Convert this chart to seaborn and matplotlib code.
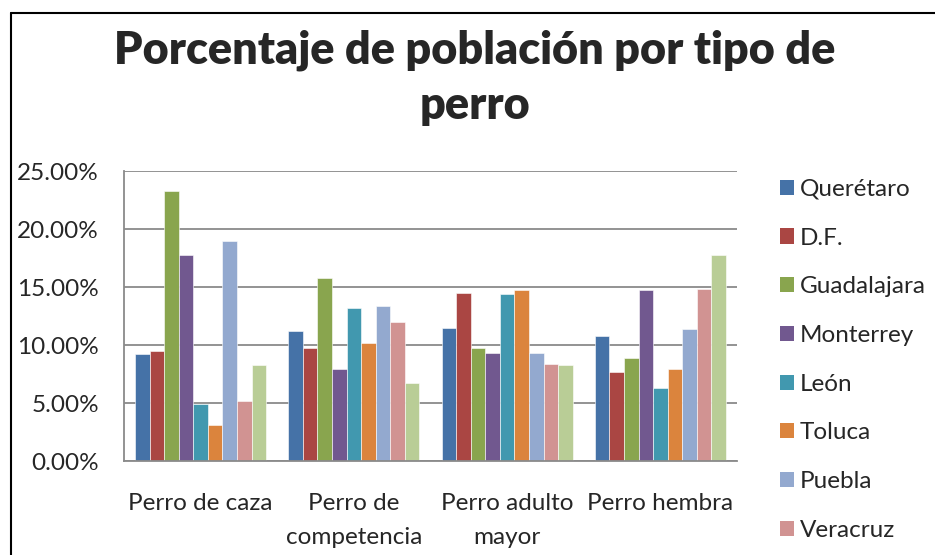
import pandas as pd
import matplotlib.pyplot as plt
import seaborn as sns
from matplotlib.patches import Patch
from matplotlib.lines import Line2D

# data (percent)
categories = ['Perro de caza', 'Perro de\ncompetencia', 'Perro adulto\nmayor', 'Perro hembra']
cities = ['Querétaro', 'D.F.', 'Guadalajara', 'Monterrey', 'León', 'Toluca',
          'Puebla', 'Veracruz', 'Otra']
queretaro = [9.2, 11.2, 11.5, 10.8]
df_city = [9.5, 9.7, 14.5, 7.7]
guadalajara = [23.3, 15.8, 9.7, 8.9]
monterrey = [17.8, 7.9, 9.3, 14.7]
leon = [4.9, 13.2, 14.4, 6.3]
toluca = [3.1, 10.2, 14.7, 7.9]
puebla = [19.0, 13.4, 9.3, 11.4]
veracruz = [5.2, 12.0, 8.4, 14.8]
otra = [8.3, 6.7, 8.3, 17.8]
series = [queretaro, df_city, guadalajara, monterrey, leon, toluca, puebla, veracruz, otra]
colors = ['#4572A7', '#AA4643', '#89A54E', '#71588F', '#4198AF', '#DB843D',
          '#93A9CF', '#D19392', '#B9CD96']
yticks = [0, 5, 10, 15, 20, 25]

rows = []
for city, vals in zip(cities, series):
    for cat, v in zip(categories, vals):
        rows.append({'tipo': cat, 'ciudad': city, 'pct': v})
df = pd.DataFrame(rows)

sns.set_style('white')
plt.rcParams['font.family'] = ['Lato', 'DejaVu Sans']

fig = plt.figure(figsize=(9.35, 5.55), dpi=100)
ax = fig.add_axes([124 / 935, 1 - 461 / 555, (737 - 124) / 935, (461 - 171) / 555])

sns.barplot(data=df, x='tipo', y='pct', hue='ciudad', order=categories,
            hue_order=cities, palette=colors, width=0.855, ax=ax,
            edgecolor='white', linewidth=0.4, saturation=1, legend=False)

ax.set_ylim(0, 25)
ax.set_yticks(yticks)
ax.set_yticklabels([f'{t:.2f}%' for t in yticks], fontsize=17.5)
ax.yaxis.grid(True, color='#8a8a8a', linewidth=1.3)
ax.set_axisbelow(True)
ax.set_xlabel('')
ax.set_ylabel('')
for lbl in ax.get_xticklabels():
    lbl.set_fontsize(17.5)
    lbl.set_linespacing(1.75)
ax.tick_params(axis='x', pad=23, length=0)
ax.tick_params(axis='y', pad=18, length=0)
for side in ['top', 'right']:
    ax.spines[side].set_visible(False)
for side in ['left', 'bottom']:
    ax.spines[side].set_color('#8a8a8a')
    ax.spines[side].set_linewidth(1.3)

fig.text(0.508, 1 - 77.5 / 555, 'Porcentaje de población por tipo de\nperro',
         ha='center', va='center', fontsize=32.4, fontweight='heavy', linespacing=1.42)

handles = [Patch(facecolor=c, edgecolor='none') for c in colors[:8]]
fig.legend(handles, cities[:8], loc='upper left', bbox_to_anchor=(758 / 935, 1 - 157 / 555),
           frameon=False, fontsize=17.5, handlelength=0.58, handleheight=0.58,
           handletextpad=0.25, labelspacing=1.14)

# outer frame of the original chart, cut off at right and bottom
fig.add_artist(Line2D([11 / 935, 1], [1 - 13 / 555, 1 - 13 / 555], color='black', linewidth=1.5))
fig.add_artist(Line2D([11 / 935, 11 / 935], [0, 1 - 13 / 555], color='black', linewidth=1.5))

fig.savefig('out.png', dpi=100)
